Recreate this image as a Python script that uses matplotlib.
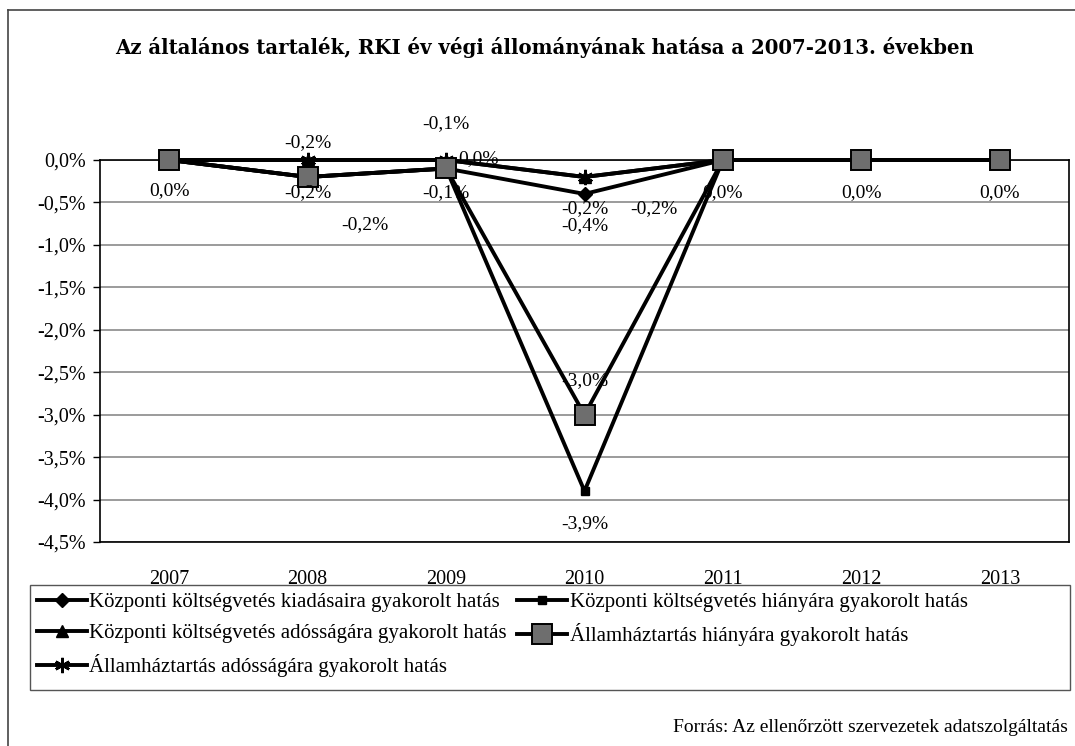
import matplotlib.pyplot as plt
from matplotlib.lines import Line2D
from matplotlib.patches import Rectangle
from matplotlib.ticker import FuncFormatter

years = ["2007", "2008", "2009", "2010", "2011", "2012", "2013"]

kv_kiadas = [0.0, -0.2, -0.1, -0.4, 0.0, 0.0, 0.0]
kv_hiany = [0.0, -0.2, -0.1, -3.9, 0.0, 0.0, 0.0]
kv_adossag = [0.0, 0.0, 0.0, -0.2, 0.0, 0.0, 0.0]
aht_hiany = [0.0, -0.2, -0.1, -3.0, 0.0, 0.0, 0.0]
aht_adossag = [0.0, 0.0, 0.0, -0.2, 0.0, 0.0, 0.0]

series_names = [
    "Központi költségvetés kiadásaira gyakorolt hatás",
    "Központi költségvetés hiányára gyakorolt hatás",
    "Központi költségvetés adósságára gyakorolt hatás",
    "Államháztartás hiányára gyakorolt hatás",
    "Államháztartás adósságára gyakorolt hatás",
]

title = "Az általános tartalék, RKI év végi állományának hatása a 2007-2013. években"
source = "Forrás: Az ellenőrzött szervezetek adatszolgáltatás"

SERIF = ["Liberation Serif", "DejaVu Serif"]


def pct(v, pos=None):
    return f"{v:.1f}%".replace(".", ",")


fig = plt.figure(figsize=(10.75, 7.46), dpi=100)
ax = fig.add_axes([100 / 1075, 1 - 542 / 746, 969 / 1075, 382 / 746])

x = list(range(len(years)))
data = [kv_kiadas, kv_hiany, kv_adossag, aht_hiany, aht_adossag]
styles = [
    dict(marker="D", ms=7, mfc="black", mec="black", zorder=3),
    dict(marker="s", ms=6, mfc="black", mec="black", zorder=3),
    dict(marker="^", ms=9, mfc="black", mec="black", zorder=3),
    dict(marker="s", ms=14, mfc="#6e6e6e", mec="black", mew=1.4, zorder=4),
    dict(marker=(6, 2, 0), ms=11, mfc="black", mec="black", mew=1.8, zorder=3),
]
handles = []
for vals, st, name in zip(data, styles, series_names):
    h, = ax.plot(x, vals, color="black", lw=2.8, label=name,
                 clip_on=False, **st)
    handles.append(h)

# data labels: (series, point, dx px, dy px)
labels = [
    (3, 0, 0, -31), (3, 1, 0, 34), (1, 1, 0, -16), (0, 1, 57, -48),
    (3, 2, 0, 45), (4, 2, 32, 1), (1, 2, 0, -24),
    (4, 3, 0, -32), (0, 3, 0, -32), (2, 3, 69, -32),
    (3, 3, 0, 34), (1, 3, 0, -33),
    (3, 4, 0, -33), (3, 5, 0, -33), (3, 6, 0, -33),
]
for si, pi, dx, dy in labels:
    v = data[si][pi]
    ax.annotate(pct(v), (pi, v), xytext=(dx, dy), textcoords="offset pixels",
                ha="center", va="center", fontsize=14, family=SERIF, zorder=5)

ax.set_xlim(-0.5, len(years) - 0.5)
ax.set_ylim(-4.5, 0.0)
ax.set_yticks([-4.5 + 0.5 * i for i in range(10)])
ax.yaxis.set_major_formatter(FuncFormatter(pct))
ax.set_xticks(x)
ax.set_xticklabels(years)
ax.tick_params(axis="x", length=0, pad=20)
ax.tick_params(axis="y", length=5, width=1, direction="out", pad=5)
for lab in ax.get_xticklabels() + ax.get_yticklabels():
    lab.set_family(SERIF)
    lab.set_fontsize(14.5)
ax.grid(axis="y", color="#8a8a8a", lw=1.2, zorder=0)
for sp in ax.spines.values():
    sp.set_color("black")
    sp.set_linewidth(1.2)

fig.text(545 / 1075, 1 - 48 / 746, title, ha="center", va="center",
         fontsize=14.2, fontweight="bold", family=["DejaVu Serif"])

# legend order: filled column-wise, so reorder to read row-wise like the original
order = [0, 2, 4, 1, 3]
leg = fig.legend(handles=[handles[i] for i in order], loc="upper left", ncol=2,
                 bbox_to_anchor=(30 / 1075, 1 - 585 / 746),
                 prop={"family": SERIF, "size": 15}, frameon=False,
                 handlelength=2.4, handletextpad=0.1, labelspacing=0.55,
                 borderaxespad=0.0, columnspacing=0.5, borderpad=0.35)
fig.add_artist(Rectangle((30 / 1075, 1 - 690 / 746), 1040 / 1075, 105 / 746,
                         transform=fig.transFigure, fill=False,
                         edgecolor="#555555", lw=1.0))

fig.text(1068 / 1075, 1 - 728 / 746, source, ha="right", va="center",
         fontsize=14, family=SERIF)

# outer frame
fig.add_artist(Line2D([8 / 1075, 8 / 1075], [0, 1 - 10 / 746], color="#444444", lw=1.2))
fig.add_artist(Line2D([8 / 1075, 1], [1 - 10 / 746, 1 - 10 / 746], color="#444444", lw=1.2))

fig.savefig("out.png", dpi=100)
